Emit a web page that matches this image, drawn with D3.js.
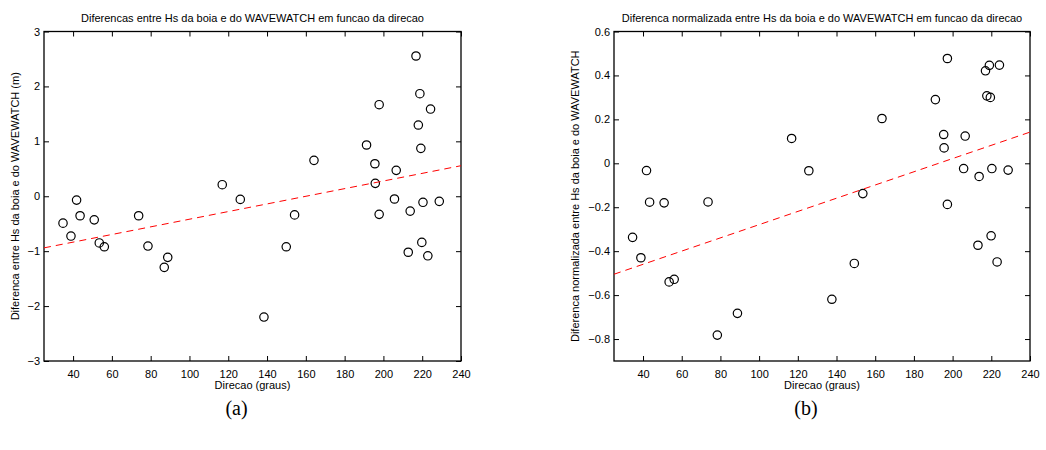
<!DOCTYPE html>
<html><head><meta charset="utf-8">
<script src="https://cdn.jsdelivr.net/npm/d3@7"></script>
<style>
body{margin:0;background:#fff;}
svg{display:block;font-family:"Liberation Sans",Arial,Helvetica,sans-serif;}
</style></head>
<body><svg id="c" width="1046" height="450"></svg>
<script>
// ---- data ----
const dirA = [34.8,38.9,41.8,43.6,50.9,53.5,56.1,73.8,78.6,87.0,88.8,116.9,126.2,138.4,149.9,154.2,164.2,191.3,195.6,195.8,197.8,197.8,205.7,206.6,212.8,213.8,216.8,218.0,218.8,219.3,219.8,220.4,222.9,224.3,228.8];
const diffA = [-0.49,-0.725,-0.07,-0.355,-0.43,-0.85,-0.92,-0.355,-0.907,-1.295,-1.113,0.21,-0.057,-2.2,-0.92,-0.34,0.654,0.933,0.592,0.235,1.667,-0.33,-0.05,0.472,-1.02,-0.27,2.554,1.297,1.867,0.872,-0.84,-0.11,-1.084,1.588,-0.093];
const dirB = [34.6,38.9,41.8,43.4,50.9,53.5,56.1,73.6,78.4,88.8,116.8,125.7,137.6,149.2,153.6,163.5,191.1,195.4,195.6,197.3,197.3,205.7,206.5,213.1,213.7,217.0,217.7,219.0,219.5,219.9,220.3,223.0,224.2,228.7];
const diffB = [-0.337,-0.43,-0.033,-0.177,-0.18,-0.54,-0.528,-0.176,-0.782,-0.683,0.113,-0.034,-0.619,-0.456,-0.138,0.204,0.29,0.131,0.07,0.477,-0.187,-0.024,0.124,-0.373,-0.06,0.421,0.307,0.446,0.3,-0.33,-0.024,-0.449,0.447,-0.031];
const trendXA = [25,240], trendYA = [-0.94,0.556];
const trendXB = [25,240], trendYB = [-0.505,0.142];
const xTicks = [40,60,80,100,120,140,160,180,200,220,240];
const yTicksA = [-3,-2,-1,0,1,2,3];
const yTicksB = [-0.8,-0.6,-0.4,-0.2,0,0.2,0.4,0.6];
const xDomain = [25,240];
const yDomainA = [-3,3], yDomainB = [-0.9,0.6];
const titles = ["Diferencas entre Hs da boia e do WAVEWATCH em funcao da direcao",
                "Diferenca normalizada entre Hs da boia e do WAVEWATCH em funcao da direcao"];
const yLabels = ["Diferenca entre Hs da boia e do WAVEWATCH (m)",
                 "Diferenca normalizada entre Hs da boia e do WAVEWATCH"];
const xLabel = "Direcao (graus)";
const panelLabels = ["(a)","(b)"];

const svg = d3.select("#c");
const fmt = d => d===0 ? "0" : (Number.isInteger(d) ? String(d) : d3.format(".1f")(d)).replace("-","\u2212");

function panel(cfg){
  const {x0,x1,y0,y1,dirs,vals,yDom,yTicks,tX,tY,title,ylab,plab,ylabX} = cfg;
  const x = d3.scaleLinear().domain(xDomain).range([x0,x1]);
  const y = d3.scaleLinear().domain(yDom).range([y1,y0]);
  const g = svg.append("g");
  const clipId = "clip"+x0;
  svg.append("clipPath").attr("id",clipId).append("rect")
     .attr("x",x0).attr("y",y0).attr("width",x1-x0).attr("height",y1-y0);

  // axes (inward ticks on all sides, box)
  const tl = 5;
  const axB = g.append("g").attr("transform",`translate(0,${y1})`)
    .call(d3.axisBottom(x).tickValues(xTicks).tickSizeInner(-tl).tickSizeOuter(0).tickPadding(9).tickFormat(fmt));
  const axT = g.append("g").attr("transform",`translate(0,${y0})`)
    .call(d3.axisTop(x).tickValues(xTicks).tickSizeInner(-tl).tickSizeOuter(0).tickFormat(""));
  const axL = g.append("g").attr("transform",`translate(${x0},0)`)
    .call(d3.axisLeft(y).tickValues(yTicks).tickSizeInner(-tl).tickSizeOuter(0).tickPadding(4).tickFormat(fmt));
  const axR = g.append("g").attr("transform",`translate(${x1},0)`)
    .call(d3.axisRight(y).tickValues(yTicks).tickSizeInner(-tl).tickSizeOuter(0).tickFormat(""));
  [axB,axT,axL,axR].forEach(a=>{
    a.selectAll("path").remove();
    a.selectAll("line").attr("stroke","#000").attr("stroke-width",1);
    a.selectAll("text").attr("fill","#000").style("font-size","11px")
     .style("font-family",'"Liberation Sans",Arial,sans-serif');
  });
  g.append("rect").attr("x",x0).attr("y",y0).attr("width",x1-x0).attr("height",y1-y0)
   .attr("fill","none").attr("stroke","#000").attr("stroke-width",1.3);

  // points
  const pts = dirs.map((d,i)=>({d,v:vals[i]}));
  g.append("g").attr("clip-path",`url(#${clipId})`).selectAll("circle").data(pts).join("circle")
    .attr("cx",p=>x(p.d)).attr("cy",p=>y(p.v)).attr("r",4.2)
    .attr("fill","none").attr("stroke","#000").attr("stroke-width",1.2);

  // trend line
  const line = d3.line().x(p=>x(p[0])).y(p=>y(p[1]));
  g.append("path").attr("d",line(tX.map((xv,i)=>[xv,tY[i]])))
    .attr("fill","none").attr("stroke","#ff0000").attr("stroke-width",1).attr("stroke-dasharray","7,5")
    .attr("clip-path",`url(#${clipId})`);

  const cx = (x0+x1)/2;
  g.append("text").attr("x",cx).attr("y",22).attr("text-anchor","middle")
    .style("font-size","11px").text(title);
  g.append("text").attr("x",cx).attr("y",389).attr("text-anchor","middle")
    .style("font-size","11px").text(xLabel);
  g.append("text").attr("transform",`translate(${ylabX},${(y0+y1)/2}) rotate(-90)`)
    .attr("text-anchor","middle").style("font-size","11px").text(ylab);
  g.append("text").attr("x",cx-16).attr("y",415).attr("text-anchor","middle")
    .style("font-family",'"Liberation Serif","Times New Roman",serif').style("font-size","20px").text(plab);
}

panel({x0:44,x1:461,y0:31.5,y1:361,dirs:dirA,vals:diffA,yDom:yDomainA,yTicks:yTicksA,
       tX:trendXA,tY:trendYA,title:titles[0],ylab:yLabels[0],plab:panelLabels[0],ylabX:19});
panel({x0:614,x1:1030,y0:31.5,y1:361,dirs:dirB,vals:diffB,yDom:yDomainB,yTicks:yTicksB,
       tX:trendXB,tY:trendYB,title:titles[1],ylab:yLabels[1],plab:panelLabels[1],ylabX:579});
</script></body></html>
